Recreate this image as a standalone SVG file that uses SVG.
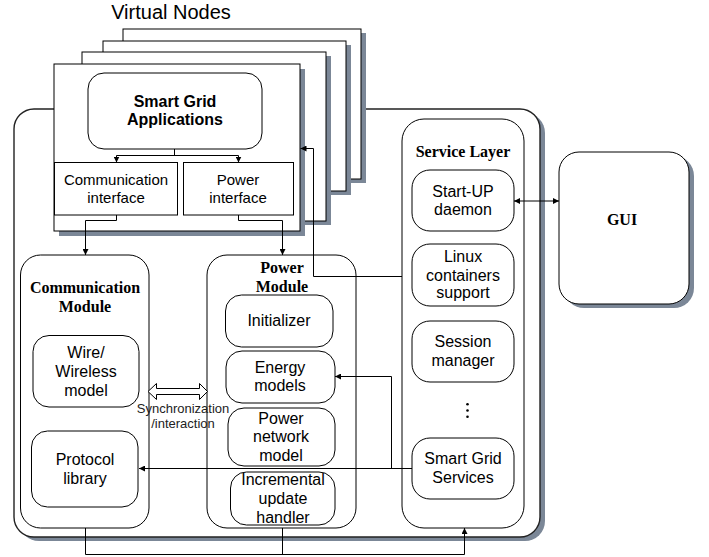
<svg xmlns="http://www.w3.org/2000/svg" width="709" height="557" viewBox="0 0 709 557">
<defs>
<style>
.box{fill:#fff;stroke:#000;stroke-width:1}
.shadow{fill:#7b8797;stroke:none}
.outer{fill:#fff;stroke:#222;stroke-width:1.4}
.t{font-family:"Liberation Sans",Arial,sans-serif;font-size:16px;fill:#000;text-anchor:middle}
.ts{font-family:"Liberation Sans",Arial,sans-serif;font-size:15px;fill:#000;text-anchor:middle}
.tb{font-family:"Liberation Sans",Arial,sans-serif;font-size:16px;font-weight:bold;fill:#000;text-anchor:middle}
.tt{font-family:"Liberation Serif","Times New Roman",serif;font-size:16px;font-weight:bold;fill:#000;text-anchor:middle}
.tsync{font-family:"Liberation Sans",Arial,sans-serif;font-size:13px;fill:#222;text-anchor:middle}
.c{fill:none;stroke:#000;stroke-width:1}
</style>
<marker id="ah" viewBox="0 0 10 10" refX="10" refY="5" markerWidth="6" markerHeight="6" markerUnits="userSpaceOnUse" orient="auto-start-reverse">
<path d="M0,0 L10,5 L0,10 z" fill="#000"/>
</marker>
</defs>

<text x="171" y="19" font-family="'Liberation Sans',Arial,sans-serif" font-size="20" text-anchor="middle" fill="#000">Virtual Nodes</text>

<g id="outer-container">
<rect class="shadow" x="19" y="113" width="526" height="428" rx="20"/>
<rect class="outer" x="14" y="109" width="526" height="428" rx="20"/>
</g>

<g id="virtual-nodes">
<rect class="shadow" x="128" y="33" width="238" height="150"/>
<rect class="box" x="123" y="29" width="238" height="150"/>
<rect class="shadow" x="108" y="45" width="243" height="150"/>
<rect class="box" x="103" y="41" width="243" height="150"/>
<rect class="shadow" x="87" y="56" width="244" height="169"/>
<rect class="box" x="82" y="52" width="244" height="169"/>
<rect class="shadow" x="59" y="69" width="246" height="167"/>
<rect class="box" x="54" y="64" width="246" height="167"/>
</g>

<g id="smart-grid-applications">
<rect class="box" x="88" y="73" width="174" height="76" rx="16"/>
<text class="tb" x="175" y="107">Smart Grid</text>
<text class="tb" x="175" y="125">Applications</text>
</g>

<g id="communication-interface">
<rect class="box" x="54.5" y="162.5" width="123" height="52.5"/>
<text class="ts" x="116" y="185">Communication</text>
<text class="ts" x="116" y="203">interface</text>
</g>

<g id="power-interface">
<rect class="box" x="183.5" y="162.5" width="110" height="52.5"/>
<text class="ts" x="238" y="185">Power</text>
<text class="ts" x="238" y="203">interface</text>
</g>

<g id="communication-module">
<rect class="box" x="20.5" y="255" width="128.5" height="273" rx="20"/>
<text class="tt" x="85" y="293">Communication</text>
<text class="tt" x="85" y="312">Module</text>
</g>

<g id="wire-wireless-model">
<rect class="box" x="33" y="335.5" width="106" height="71.5" rx="16"/>
<text class="t" x="86" y="358">Wire/</text>
<text class="t" x="86" y="377">Wireless</text>
<text class="t" x="86" y="396">model</text>
</g>

<g id="protocol-library">
<rect class="box" x="31.5" y="431" width="106.5" height="76" rx="16"/>
<text class="t" x="85" y="465">Protocol</text>
<text class="t" x="85" y="483.5">library</text>
</g>

<g id="power-module">
<rect class="box" x="207" y="255" width="149" height="273" rx="20"/>
<text class="tt" x="282" y="273">Power</text>
<text class="tt" x="282" y="292">Module</text>
</g>

<g id="initializer">
<rect class="box" x="225.5" y="295" width="107.5" height="52" rx="16"/>
<text class="t" x="279" y="326">Initializer</text>
</g>

<g id="energy-models">
<rect class="box" x="226" y="351" width="109" height="52" rx="16"/>
<text class="t" x="280" y="373">Energy</text>
<text class="t" x="280" y="391">models</text>
</g>

<g id="power-network-model">
<rect class="box" x="228" y="408" width="107" height="58" rx="16"/>
<text class="t" x="281" y="424">Power</text>
<text class="t" x="281" y="442">network</text>
<text class="t" x="281" y="461">model</text>
</g>

<g id="incremental-update-handler">
<rect class="box" x="230.5" y="472" width="104.5" height="53" rx="16"/>
<text class="t" x="283" y="485">Incremental</text>
<text class="t" x="283" y="503.5">update</text>
<text class="t" x="283" y="522.5">handler</text>
</g>

<g id="service-layer">
<rect class="box" x="402" y="119" width="122" height="409" rx="22"/>
<text class="tt" x="463" y="157">Service Layer</text>
<circle cx="467.5" cy="404.3" r="1.3" fill="#000"/>
<circle cx="467.5" cy="410.5" r="1.3" fill="#000"/>
<circle cx="467.5" cy="416.7" r="1.3" fill="#000"/>
</g>

<g id="start-up-daemon">
<rect class="box" x="412" y="170" width="102" height="61" rx="18"/>
<text class="t" x="463" y="196.5">Start-UP</text>
<text class="t" x="463" y="215">daemon</text>
</g>

<g id="linux-containers-support">
<rect class="box" x="412" y="244" width="102" height="62" rx="18"/>
<text class="t" x="463" y="262">Linux</text>
<text class="t" x="463" y="281">containers</text>
<text class="t" x="463" y="298">support</text>
</g>

<g id="session-manager">
<rect class="box" x="412" y="321" width="102" height="61" rx="18"/>
<text class="t" x="463" y="347">Session</text>
<text class="t" x="463" y="366">manager</text>
</g>

<g id="smart-grid-services">
<rect class="box" x="412" y="438" width="102" height="61" rx="18"/>
<text class="t" x="463" y="464">Smart Grid</text>
<text class="t" x="463" y="483">Services</text>
</g>

<g id="gui">
<rect class="shadow" x="564" y="156" width="130" height="152" rx="20"/>
<rect class="box" x="559" y="152" width="130" height="152" rx="20"/>
<text class="tt" x="622" y="225">GUI</text>
</g>

<g id="connectors">
<path class="c" d="M174.5,149 V155.5 M116.5,155.5 H238.5"/>
<path class="c" marker-end="url(#ah)" d="M116.5,155.5 V162.5"/>
<path class="c" marker-end="url(#ah)" d="M238.5,155.5 V162.5"/>
<path class="c" marker-end="url(#ah)" d="M116.5,215 V220.5 H85.5 V255"/>
<path class="c" marker-end="url(#ah)" d="M238.5,215 V220.5 H282.5 V255"/>
<path class="c" marker-end="url(#ah)" d="M402,276.5 H313.5 V148.5 H300.5"/>
<path class="c" marker-start="url(#ah)" marker-end="url(#ah)" d="M514,201 H559"/>
<path class="c" marker-end="url(#ah)" d="M412,468.5 H139"/>
<path class="c" marker-end="url(#ah)" d="M391.5,468.5 V376.5 H335"/>
<path class="c" marker-end="url(#ah)" d="M85.5,528 V554.5 H464.5 V528"/>
<path class="c" d="M282.5,528 V554.5"/>
<polygon fill="#fff" stroke="#000" stroke-width="1" points="148,391.5 156.5,383.5 156.5,388.5 199.5,388.5 199.5,383.5 207.5,391.5 199.5,399.5 199.5,394.5 156.5,394.5 156.5,399.5"/>
<text class="tsync" x="183" y="413">Synchronization</text>
<text class="tsync" x="183" y="428">/interaction</text>
</g>
</svg>
